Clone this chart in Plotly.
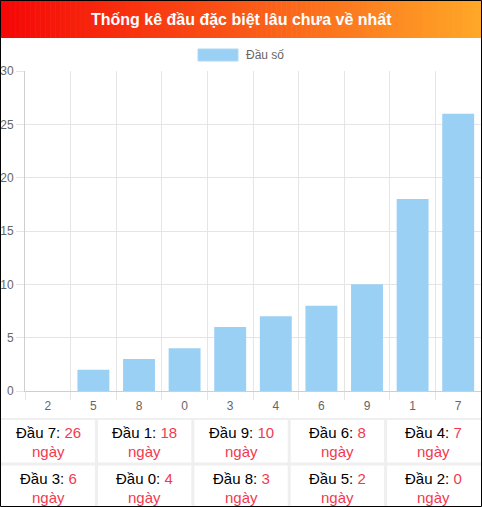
import plotly.graph_objects as go

# ---- data ----
categories = ["2", "5", "8", "0", "3", "4", "6", "9", "1", "7"]
values = [0, 2, 3, 4, 6, 7, 8, 10, 18, 26]
series_name = "Đầu số"
title_text = "Thống kê đầu đặc biệt lâu chưa về nhất"
y_ticks = [0, 5, 10, 15, 20, 25, 30]

table_heads = ["7", "1", "9", "6", "4", "3", "0", "8", "5", "2"]
table_days = [26, 18, 10, 8, 7, 6, 4, 3, 2, 0]

# ---- geometry (pixels) ----
W, H = 482, 507
L, R, T, B = 25, 1, 71, 116
PW = W - L - R
PH = H - T - B

def px(x):
    return (x - L) / PW

def py(y):
    return (H - B - y) / PH

FONT = "Arial, Liberation Sans, sans-serif"
RED = "#f23a4f"

fig = go.Figure()
fig.add_trace(go.Bar(
    x=categories, y=values, name=series_name,
    marker=dict(color="#9bd0f5", line=dict(width=0)),
    width=0.7, showlegend=False, hoverinfo="x+y",
))

shapes = []
annotations = []

# title gradient bar
c0 = (245, 6, 6)
c1 = (255, 168, 40)
n = 96
bw = W / n
for i in range(n):
    t = (i + 0.5) / n
    col = tuple(int(round(c0[k] + (c1[k] - c0[k]) * t)) for k in range(3))
    shapes.append(dict(type="rect", xref="paper", yref="paper",
                       x0=px(i * bw), x1=px((i + 1) * bw + 0.6),
                       y0=py(38), y1=py(0), line=dict(width=0),
                       fillcolor="rgb(%d,%d,%d)" % col, layer="above"))
annotations.append(dict(text="<b>" + title_text + "</b>", xref="paper", yref="paper",
                        x=px(241), y=py(19.5), showarrow=False,
                        font=dict(family=FONT, size=16, color="white"),
                        xanchor="center", yanchor="middle"))

# legend (custom)
shapes.append(dict(type="rect", xref="paper", yref="paper",
                   x0=px(198), x1=px(238), y0=py(61), y1=py(49),
                   fillcolor="#9bd0f5", line=dict(color="#aed9f7", width=1)))
annotations.append(dict(text=series_name, xref="paper", yref="paper",
                        x=px(244), y=py(55), showarrow=False,
                        font=dict(family=FONT, size=12, color="#666"),
                        xanchor="left", yanchor="middle"))

# table
grid_col = "#efefef"
shapes.append(dict(type="line", xref="paper", yref="paper",
                   x0=px(1), x1=px(481), y0=py(419), y1=py(419),
                   line=dict(color=grid_col, width=2)))
shapes.append(dict(type="line", xref="paper", yref="paper",
                   x0=px(1), x1=px(481), y0=py(464), y1=py(464),
                   line=dict(color=grid_col, width=3)))
col_w = W / 5
for j in range(1, 5):
    xv = j * col_w
    shapes.append(dict(type="line", xref="paper", yref="paper",
                       x0=px(xv), x1=px(xv), y0=py(419), y1=py(507),
                       line=dict(color=grid_col, width=3)))
row_y = [(432, 451), (478, 497)]
for idx, (h, d) in enumerate(zip(table_heads, table_days)):
    r, c = divmod(idx, 5)
    cx = (c + 0.5) * col_w
    y1, y2 = row_y[r]
    annotations.append(dict(
        text="Đầu %s: <span style='color:%s'>%d</span>" % (h, RED, d),
        xref="paper", yref="paper", x=px(cx), y=py(y1), showarrow=False,
        font=dict(family=FONT, size=15, color="#000"),
        xanchor="center", yanchor="middle"))
    annotations.append(dict(
        text="ngày", xref="paper", yref="paper", x=px(cx), y=py(y2), showarrow=False,
        font=dict(family=FONT, size=15, color=RED),
        xanchor="center", yanchor="middle"))

# outer frame
shapes.append(dict(type="rect", xref="paper", yref="paper",
                   x0=px(0.5), x1=px(481.5), y0=py(506.5), y1=py(0.5),
                   line=dict(color="black", width=1), layer="above"))

fig.update_layout(
    width=W, height=H,
    margin=dict(l=L, r=R, t=T, b=B, pad=0),
    paper_bgcolor="white", plot_bgcolor="white",
    showlegend=False,
    bargap=0.3,
    font=dict(family=FONT, size=12, color="#666"),
    shapes=shapes, annotations=annotations,
    xaxis=dict(type="category", categoryorder="array", categoryarray=categories,
               tickson="boundaries", showgrid=True, gridcolor="#e5e5e5", gridwidth=1,
               ticks="outside", ticklen=8, tickcolor="#e5e5e5",
               ticklabelstandoff=4,
               showline=True, linecolor="#cfcfcf", linewidth=1,
               tickfont=dict(family=FONT, size=12, color="#666"),
               fixedrange=True),
    yaxis=dict(range=[0, 30], tickvals=y_ticks, showgrid=True, gridcolor="#e5e5e5",
               ticks="outside", ticklen=8, tickcolor="#e5e5e5",
               showline=True, linecolor="#cfcfcf", linewidth=1, zeroline=False,
               tickfont=dict(family=FONT, size=12, color="#666"),
               fixedrange=True),
)

fig.write_html(
    "out.html",
    config={"displayModeBar": False},
    post_script="document.body.style.margin='0';document.body.style.padding='0';document.body.style.overflow='hidden';",
)
